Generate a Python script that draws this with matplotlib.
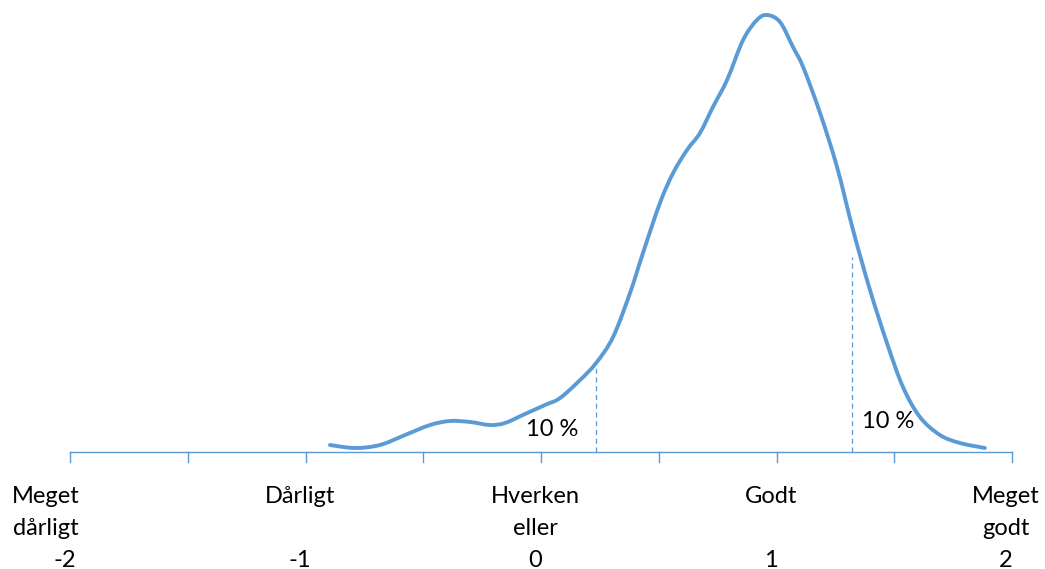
import numpy as np
import matplotlib
matplotlib.use("Agg")
import matplotlib.pyplot as plt
from matplotlib.path import Path
from matplotlib.patches import PathPatch

plt.rcParams['font.family'] = ['Lato', 'DejaVu Sans']

# fordelingskurve (x = score, y = relativ tæthed)
x_vals = [-0.896, -0.790, -0.684, -0.577, -0.471, -0.386, -0.301, -0.217, -0.153,
          -0.068, 0.017, 0.081, 0.166, 0.234, 0.306, 0.378, 0.433, 0.505, 0.561,
          0.620, 0.675, 0.730, 0.790, 0.858, 0.917, 0.960, 1.015, 1.070, 1.113,
          1.185, 1.257, 1.325, 1.397, 1.469, 1.537, 1.609, 1.694, 1.779, 1.885]
y_vals = [7, 4, 7, 17, 27, 31, 30, 27, 29, 38, 47, 54, 72, 89, 115, 159, 199, 249,
          279, 302, 319, 345, 372, 412, 432, 437, 430, 405, 385, 339, 285, 222, 162,
          109, 65, 35, 17, 9, 4]
y_vals = [v / 1000 for v in y_vals]

# 10 %-grænser
cut_x = [0.234, 1.321]
cut_top = [0.087, 0.195]
cut_labels = ["10 %", "10 %"]
cut_label_x = [0.047, 1.474]
cut_label_y = [0.023, 0.030]

tick_pos = [-2, -1, 0, 1, 2]
label_line1 = ["Meget", "Dårligt", "Hverken", "Godt", "Meget"]
label_line2 = ["dårligt", "", "eller", "", "godt"]
label_num = ["-2", "-1", "0", "1", "2"]

blue = "#5B9BD5"


def smooth_path(xs, ys, t=0.5):
    # Catmull-Rom -> Bezier, som Excels "udjævnet linje"
    pts = np.column_stack([xs, ys])
    verts = [pts[0]]
    codes = [Path.MOVETO]
    n = len(pts)
    for i in range(n - 1):
        p0 = pts[max(i - 1, 0)]
        p1 = pts[i]
        p2 = pts[i + 1]
        p3 = pts[min(i + 2, n - 1)]
        c1 = p1 + (p2 - p0) * t / 3
        c2 = p2 - (p3 - p1) * t / 3
        verts += [c1, c2, p2]
        codes += [Path.CURVE4] * 3
    return Path(verts, codes)


fig = plt.figure(figsize=(10.45, 5.69), dpi=100)
ax = fig.add_axes([70 / 1045, 117 / 569, 942 / 1045, 440 / 569])
ax.set_xlim(-2, 2)
ax.set_ylim(0, 0.440)

ax.add_patch(PathPatch(smooth_path(x_vals, y_vals), facecolor='none',
                       edgecolor=blue, linewidth=2.8, capstyle='round'))
for cx, ct in zip(cut_x, cut_top):
    ax.vlines(cx, 0, ct, colors=blue, linestyles=(0, (4, 3)), linewidth=0.9)
for lx, ly, lab in zip(cut_label_x, cut_label_y, cut_labels):
    ax.text(lx, ly, lab, ha='center', va='center', fontsize=17)

# akse
ax.axhline(0, color=blue, linewidth=1.0, clip_on=False)
for t in np.arange(-2, 2.01, 0.5):
    ax.plot([t, t], [0, -0.010], color=blue, linewidth=1.0, clip_on=False)

# kategorietiketter (grundlinjer ved 503, 535, 567 px fra toppen)
for p, l1, l2, num in zip(tick_pos, label_line1, label_line2, label_num):
    xw = p - 0.025
    xn = p - 0.025
    if p == -2:
        xw = -2.102
        xn = -2.021
    ax.text(xw, -0.051, l1, ha='center', va='baseline', fontsize=17, clip_on=False)
    ax.text(xw, -0.083, l2, ha='center', va='baseline', fontsize=17, clip_on=False)
    ax.text(xn, -0.115, num, ha='center', va='baseline', fontsize=17, clip_on=False)

for s in ax.spines.values():
    s.set_visible(False)
ax.set_xticks([])
ax.set_yticks([])

fig.savefig("out.png", dpi=100)
